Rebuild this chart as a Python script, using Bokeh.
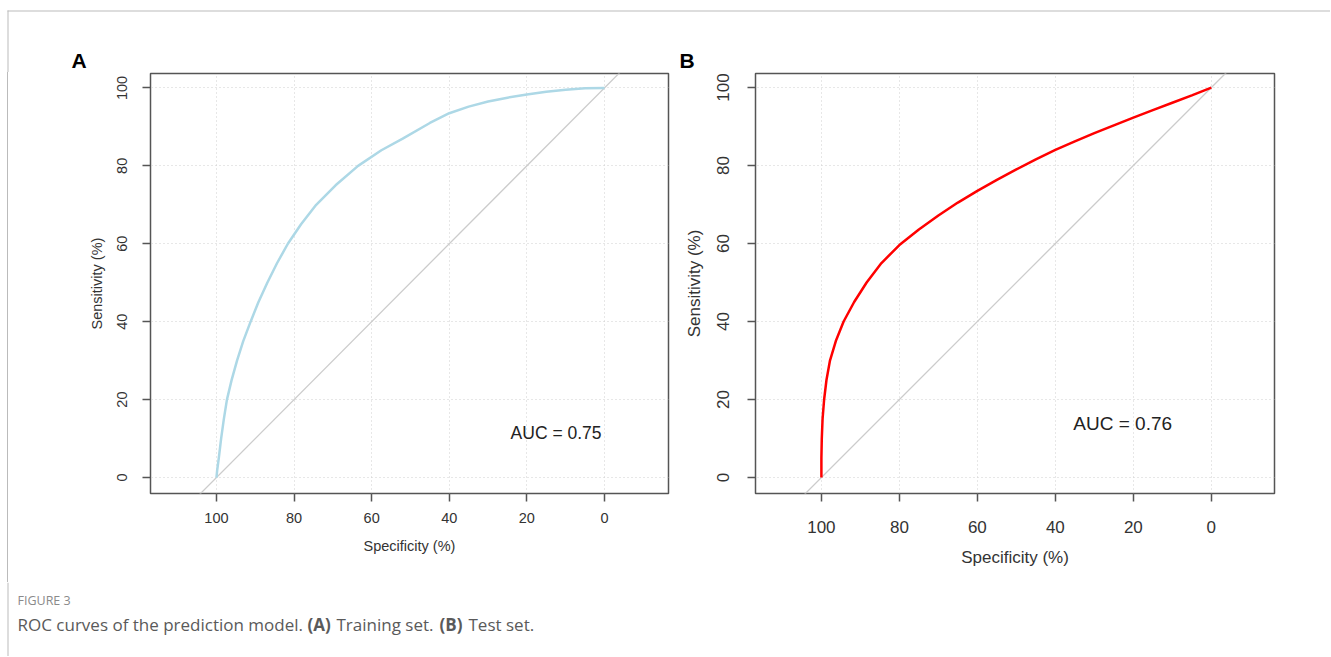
from bokeh.plotting import figure
from bokeh.models import Range1d, FixedTicker, Label, Spacer
from bokeh.layouts import row, column
from bokeh.embed import file_html
from bokeh.resources import INLINE

# ---------------- data ----------------
spec_ticks = [100, 80, 60, 40, 20, 0]
sens_ticks = [0, 20, 40, 60, 80, 100]

train_spec = [100, 99.8, 99.4, 98.8, 98.1, 97.3, 96.1, 94.7, 93.1, 91.2,
              89.2, 86.9, 84.4, 81.6, 78.2, 74.3, 69.3, 63.5, 57.5, 52,
              45, 40, 35, 30, 25, 20, 15, 10, 5, 0]
train_sens = [0, 2, 5, 10, 15, 20, 25, 30, 35, 40,
              45, 50, 55, 60, 65, 70, 75, 80, 84, 87,
              91, 93.5, 95.2, 96.5, 97.5, 98.3, 99, 99.5, 99.9, 100]

test_spec = [100, 100, 99.9, 99.7, 99.3, 98.7, 97.8, 96.3, 94.3, 91.6,
             88.4, 84.6, 80, 75, 70, 65, 60, 55, 50, 45,
             40, 35, 30, 25, 20, 15, 10, 5, 0]
test_sens = [0, 5, 10, 15, 20, 25, 30, 35, 40, 45,
             50, 55, 59.6, 63.6, 67.2, 70.5, 73.5, 76.3, 79, 81.6,
             84, 86.2, 88.3, 90.3, 92.3, 94.2, 96.1, 98, 100]

diag_spec = [130, -30]
diag_sens = [-30, 130]

auc_train = "AUC = 0.75"
auc_test = "AUC = 0.76"
panel_labels = ["A", "B"]
x_title = "Specificity (%)"
y_title = "Sensitivity (%)"
fig_label = "FIGURE 3"
caption_parts = [("ROC curves of the prediction model.", "normal"),
                 ("(A)", "bold"), ("Training set.", "normal"),
                 ("(B)", "bold"), ("Test set.", "normal")]

FONT = "Liberation Sans"
CAP_FONT = "Open Sans"
BORDER = "#bbbbbb"
W = 1330
TOP_H = 72
MID_H = 510
CAP_H = 74


def blank(width, height, fill="white"):
    p = figure(width=width, height=height, x_range=Range1d(0, width),
               y_range=Range1d(height, 0), x_axis_type=None, y_axis_type=None,
               output_backend="svg", toolbar_location=None, min_border=0)
    p.outline_line_color = None
    p.background_fill_color = fill
    p.border_fill_color = fill
    return p


def make_panel(width, mbl, mbr, mbb, xr, yr, fs_tick, fs_lab, tick_sd, lab_sd_x,
               ytick_sd, lab_sd_y):
    p = figure(width=width, height=MID_H, x_range=Range1d(*xr), y_range=Range1d(*yr),
               output_backend="svg", toolbar_location=None,
               min_border_left=mbl, min_border_right=mbr, min_border_top=1,
               min_border_bottom=mbb)
    p.background_fill_color = "white"
    p.border_fill_color = "white"
    p.outline_line_color = "#555555"
    p.outline_line_width = 1.5
    for ax, t, sd, lsd in ((p.xaxis[0], spec_ticks, tick_sd, lab_sd_x),
                           (p.yaxis[0], sens_ticks, ytick_sd, lab_sd_y)):
        ax.ticker = FixedTicker(ticks=t)
        ax.axis_line_color = None
        ax.major_tick_line_color = "#555555"
        ax.major_tick_line_width = 1.5
        ax.major_tick_out = 8
        ax.major_tick_in = 0
        ax.minor_tick_line_color = None
        ax.major_label_text_font = FONT
        ax.major_label_text_font_size = f"{fs_tick}px"
        ax.major_label_text_color = "#333333"
        ax.major_label_standoff = sd
        ax.axis_label_text_font = FONT
        ax.axis_label_text_font_size = f"{fs_lab}px"
        ax.axis_label_text_font_style = "normal"
        ax.axis_label_text_color = "#333333"
        ax.axis_label_standoff = lsd
    p.xaxis.axis_label = x_title
    p.yaxis.axis_label = y_title
    p.yaxis.major_label_orientation = "vertical"
    for g in (p.xgrid[0], p.ygrid[0]):
        g.grid_line_color = "#cfcfcf"
        g.grid_line_dash = "1 3"
        g.grid_line_width = 1
    p.xgrid.ticker = FixedTicker(ticks=spec_ticks)
    p.ygrid.ticker = FixedTicker(ticks=sens_ticks)
    p.line(diag_spec, diag_sens, line_color="#cccccc", line_width=1.3)
    return p


# ---------------- header strip (card border + panel letters) ----------------
top = blank(W, TOP_H)
top.segment(x0=[7], y0=[10.5], x1=[W], y1=[10.5], line_color=BORDER, line_width=1)
top.segment(x0=[7.5], y0=[10], x1=[7.5], y1=[TOP_H], line_color=BORDER, line_width=1)
for txt, lx in zip(panel_labels, [71, 679]):
    top.add_layout(Label(x=lx, y=71.5, text=txt, text_font=FONT, text_font_size="21px",
                         text_font_style="bold", text_color="black",
                         text_baseline="bottom", text_align="left"))

# ---------------- left border strip (plain layout boxes, no plot frame) ----------------
side_gap = Spacer(width=7, height=MID_H)
side_line = Spacer(width=1, height=MID_H, styles={"background-color": BORDER})

# ---------------- panel A ----------------
pA = make_panel(668, 142, 8, TOP_H + MID_H - 493, (117.0, -16.5), (-4.1, 103.7),
                14.5, 14.5, 11, 12, 15, 10)
pA.line(train_spec, train_sens, line_color="#add8e6", line_width=2.5)
pA.add_layout(Label(x=24.2, y=11.5, text=auc_train, text_font=FONT,
                    text_font_size="17.5px", text_color="#222222",
                    text_baseline="middle", text_align="left"))

# ---------------- panel B ----------------
pB = make_panel(W - 676, 79, W - 1274, TOP_H + MID_H - 494, (116.9, -16.2), (-4.1, 103.6),
                17, 17, 19, 12, 18, 11)
pB.line(test_spec, test_sens, line_color="#ff0000", line_width=2.5)
pB.add_layout(Label(x=35.4, y=13.8, text=auc_test, text_font=FONT,
                    text_font_size="19px", text_color="#222222",
                    text_baseline="middle", text_align="left"))

# ---------------- caption strip ----------------
cap = blank(W, CAP_H)
cap.segment(x0=[7.5], y0=[0], x1=[7.5], y1=[CAP_H], line_color=BORDER, line_width=1)
cap.add_layout(Label(x=17, y=600 - TOP_H - MID_H, text=fig_label, text_font=CAP_FONT,
                     text_font_size="12.5px", text_color="#8a8a8a",
                     text_baseline="middle", text_align="left"))
cap_x = [17, 307, 336, 439, 468]
for (txt, style), cx in zip(caption_parts, cap_x):
    cap.add_layout(Label(x=cx, y=624 - TOP_H - MID_H, text=txt, text_font=CAP_FONT,
                         text_font_size="17px", text_font_style=style,
                         text_color="#5a5a5a", text_baseline="middle",
                         text_align="left"))

layout = column(top, row(side_gap, side_line, pA, pB), cap)
open("out.html", "w").write(file_html(layout, INLINE))
